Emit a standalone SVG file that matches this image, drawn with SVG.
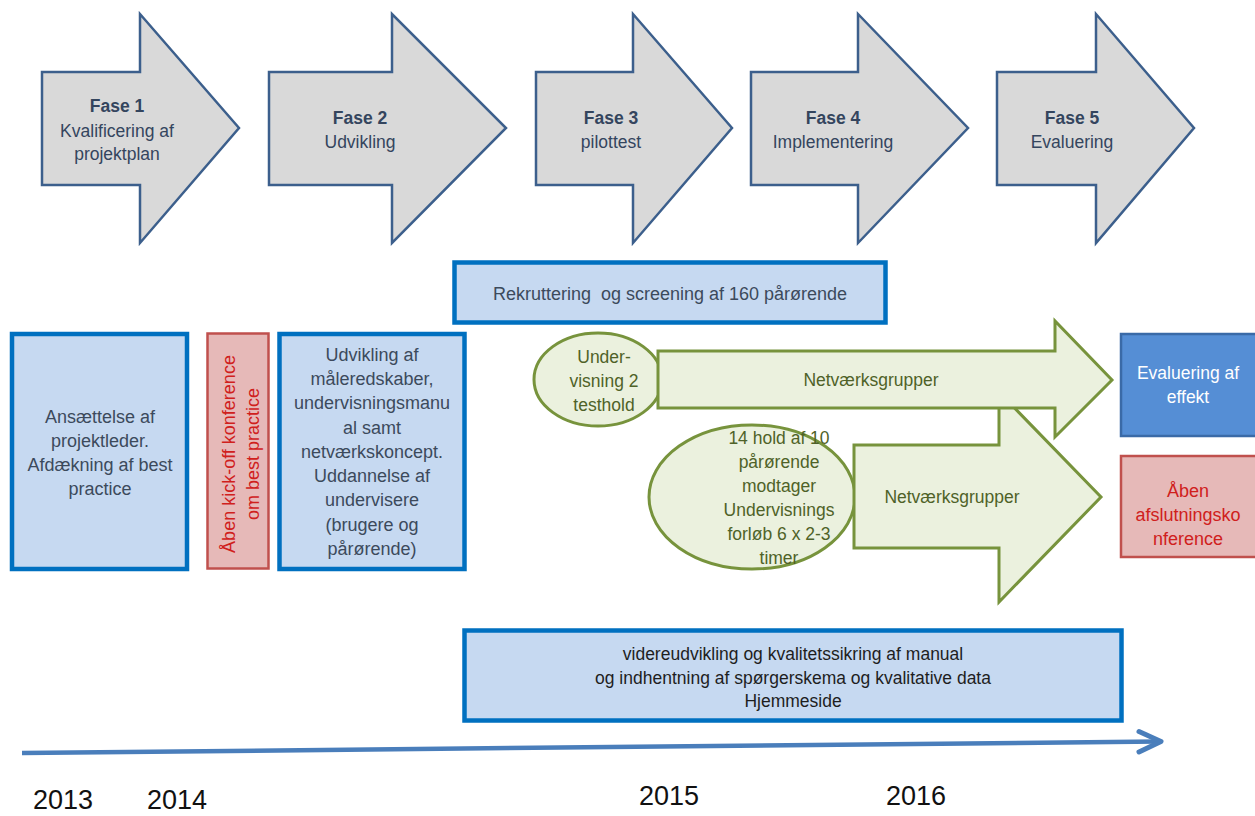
<svg xmlns="http://www.w3.org/2000/svg" width="1255" height="816" viewBox="0 0 1255 816">
<style>
text{font-family:"Liberation Sans",Arial,sans-serif}
.phase{fill:#d9d9d9;stroke:#3c5f8c;stroke-width:2.5;stroke-linejoin:miter}
.pt{font-size:17.5px;fill:#34455e;text-anchor:middle}
.pb{font-weight:bold}
.bbox{fill:#c6d9f1;stroke:#0070c0;stroke-width:4.5}
.bt{font-size:18px;fill:#3c4a5c;text-anchor:middle}
.rbox{fill:#e6b9b8;stroke:#c0504d;stroke-width:2.5}
.rt{font-size:18px;fill:#d0201c;text-anchor:middle}
.green{fill:#ebf1de;stroke:#77933c;stroke-width:3}
.gt{font-size:17.5px;fill:#4f6228;text-anchor:middle}
.yr{font-size:27px;fill:#111;text-anchor:middle}
</style>
<g id="fase1"><polygon class="phase" points="42,72 140,72 140,14 239,128 140,243 140,185 42,185"/>
<text class="pt pb" x="117" y="112">Fase 1</text><text class="pt" x="117" y="136.5">Kvalificering af</text><text class="pt" x="117" y="160">projektplan</text></g>
<g id="fase2"><polygon class="phase" points="269,72 392,72 392,14 506,128 392,243 392,185 269,185"/>
<text class="pt pb" x="360" y="124">Fase 2</text><text class="pt" x="360" y="148">Udvikling</text></g>
<g id="fase3"><polygon class="phase" points="536,72 633,72 633,14 732,128 633,243 633,185 536,185"/>
<text class="pt pb" x="611" y="124">Fase 3</text><text class="pt" x="611" y="148">pilottest</text></g>
<g id="fase4"><polygon class="phase" points="751,72 858,72 858,14 968,128 858,243 858,185 751,185"/>
<text class="pt pb" x="833" y="124">Fase 4</text><text class="pt" x="833" y="148">Implementering</text></g>
<g id="fase5"><polygon class="phase" points="997,72 1096,72 1096,14 1194,128 1096,243 1096,185 997,185"/>
<text class="pt pb" x="1072" y="124">Fase 5</text><text class="pt" x="1072" y="148">Evaluering</text></g>
<g id="rekruttering"><rect class="bbox" x="454.5" y="262.5" width="431" height="60"/>
<text class="bt" x="670" y="300" style="white-space:pre" xml:space="preserve">Rekruttering  og screening af 160 pårørende</text></g>
<g id="ansaettelse"><rect class="bbox" x="12" y="334" width="175" height="235"/>
<text class="bt" x="100" y="423">Ansættelse af</text><text class="bt" x="100" y="447">projektleder.</text><text class="bt" x="100" y="471">Afdækning af best</text><text class="bt" x="100" y="495">practice</text></g>
<g id="kickoff"><rect class="rbox" x="207.5" y="333.5" width="61" height="235"/>
<g transform="translate(235,454) rotate(-90)"><text class="rt" x="0" y="0">Åben kick-off konference</text><text class="rt" x="0" y="24">om best practice</text></g></g>
<g id="udvikling"><rect class="bbox" x="279.5" y="334" width="185" height="235"/>
<text class="bt" x="372" y="361">Udvikling af</text><text class="bt" x="372" y="385">måleredskaber,</text><text class="bt" x="372" y="409">undervisningsmanu</text><text class="bt" x="372" y="434">al samt</text><text class="bt" x="372" y="458">netværkskoncept.</text><text class="bt" x="372" y="482">Uddannelse af</text><text class="bt" x="372" y="506">undervisere</text><text class="bt" x="372" y="531">(brugere og</text><text class="bt" x="372" y="555">pårørende)</text></g>
<g id="undervisning14"><ellipse class="green" cx="752" cy="497" rx="103" ry="72"/></g>
<g id="netvaerk2"><polygon class="green" points="854,445 999,445 999,392 1101,497 999,602 999,548 854,548"/>
<text class="gt" x="952" y="503">Netværksgrupper</text></g>
<g id="undervisning14-text"><text class="gt" x="779" y="444">14 hold af 10</text><text class="gt" x="779" y="468">pårørende</text><text class="gt" x="779" y="492">modtager</text><text class="gt" x="779" y="516">Undervisnings</text><text class="gt" x="779" y="540">forløb 6 x 2-3</text><text class="gt" x="779" y="564">timer</text></g>
<g id="undervisning2"><ellipse class="green" cx="598" cy="379.5" rx="64" ry="46.5"/>
<text class="gt" x="604" y="363">Under-</text><text class="gt" x="604" y="387">visning 2</text><text class="gt" x="604" y="411">testhold</text></g>
<g id="netvaerk1"><polygon class="green" points="658,351 1055,351 1055,321 1112,380 1055,437 1055,408 658,408"/>
<text class="gt" x="871" y="386">Netværksgrupper</text></g>
<g id="evaluering"><rect x="1121" y="334" width="140" height="102" fill="#558ed5" stroke="#3a6aa7" stroke-width="2.5"/>
<text x="1188" y="379" font-size="17.5" fill="#fff" text-anchor="middle">Evaluering af</text><text x="1188" y="403" font-size="17.5" fill="#fff" text-anchor="middle">effekt</text></g>
<g id="afslutning"><rect class="rbox" x="1121" y="456" width="140" height="101"/>
<text class="rt" x="1188" y="497">Åben</text><text class="rt" x="1188" y="521">afslutningsko</text><text class="rt" x="1188" y="545">nference</text></g>
<g id="videreudvikling"><rect class="bbox" x="464.5" y="630.5" width="657" height="90"/>
<text x="793" y="660" font-size="17.5" fill="#1e1e1e" text-anchor="middle">videreudvikling og kvalitetssikring af manual</text><text x="793" y="684" font-size="17.5" fill="#1e1e1e" text-anchor="middle">og indhentning af spørgerskema og kvalitative data</text><text x="793" y="707" font-size="17.5" fill="#1e1e1e" text-anchor="middle">Hjemmeside</text></g>
<g id="connectors"><line x1="22" y1="753" x2="1159" y2="741.5" stroke="#4a7ebb" stroke-width="4.5"/>
<polyline points="1139,731.5 1161,741.5 1139,752" fill="none" stroke="#4a7ebb" stroke-width="5" stroke-linecap="round" stroke-linejoin="round"/></g>
<g id="years"><text class="yr" x="63" y="809">2013</text><text class="yr" x="177" y="809">2014</text><text class="yr" x="669" y="805">2015</text><text class="yr" x="916" y="805">2016</text></g>
</svg>
